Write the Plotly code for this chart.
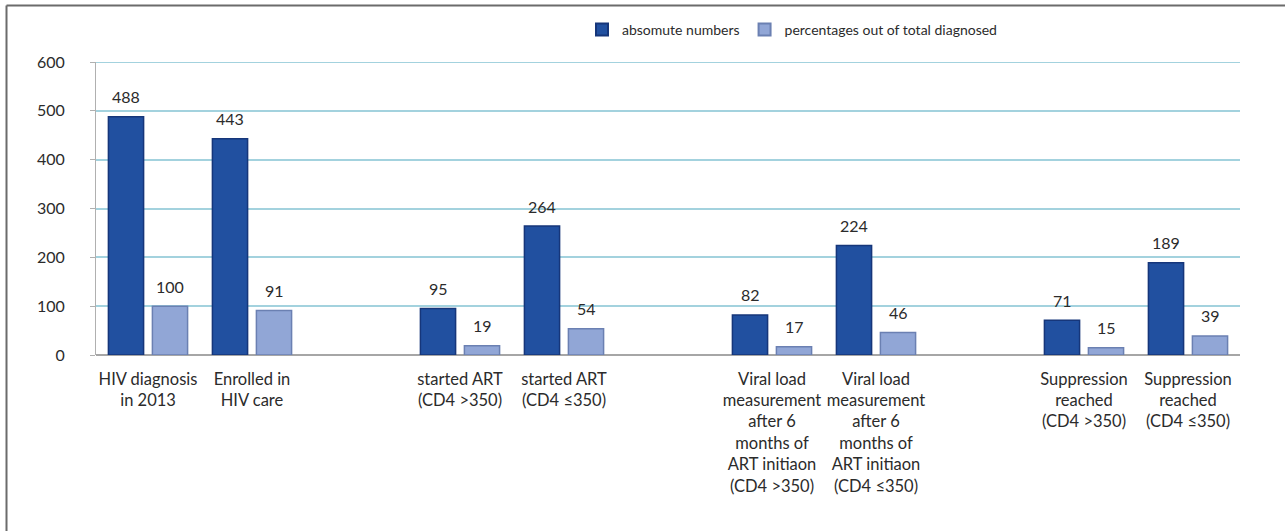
import plotly.graph_objects as go

# Care-cascade stages; empty slots separate the stage groups on the axis
categories = [
    "HIV diagnosis<br>in 2013",
    "Enrolled in<br>HIV care",
    None,
    "started ART<br>(CD4 >350)",
    "started ART<br>(CD4 ≤350)",
    None,
    "Viral load<br>measurement<br>after 6<br>months of<br>ART initiaon<br>(CD4 >350)",
    "Viral load<br>measurement<br>after 6<br>months of<br>ART initiaon<br>(CD4 ≤350)",
    None,
    "Suppression<br>reached<br>(CD4 >350)",
    "Suppression<br>reached<br>(CD4 ≤350)",
]
absolute_numbers = [488, 443, 95, 264, 82, 224, 71, 189]
percentages = [100, 91, 19, 54, 17, 46, 15, 39]
y_ticks = [0, 100, 200, 300, 400, 500, 600]

series_names = ["absomute numbers", "percentages out of total diagnosed"]

# Slot index for each real category (gaps skipped)
positions = [i for i, c in enumerate(categories) if c is not None]
labels = [c for c in categories if c is not None]

W, H = 1285, 531
L, R, T, B = 96, 45, 62, 176
plot_w = W - L - R
plot_h = H - T - B

BARGAP = 0.154
half = (1 - BARGAP) / 4  # offset of each bar centre from its slot centre

font_family = "Lato, 'Open Sans', sans-serif"
text_color = "#2b2b2b"
grid_color = "#a3d2de"

fig = go.Figure()
fig.add_trace(go.Bar(
    x=positions, y=absolute_numbers, name=series_names[0],
    marker=dict(color="#2150a0", line=dict(color="#16367a", width=1.5)),
))
fig.add_trace(go.Bar(
    x=positions, y=percentages, name=series_names[1],
    marker=dict(color="#91a6d6", line=dict(color="#6b80b2", width=1.5)),
))

# Value labels above each bar
annotations = []
for p, v in zip(positions, absolute_numbers):
    annotations.append(dict(x=p - half, y=v, xref="x", yref="y", text=str(v),
                            showarrow=False, yshift=20, yanchor="middle",
                            font=dict(size=16, color=text_color, family=font_family)))
for p, v in zip(positions, percentages):
    annotations.append(dict(x=p + half, y=v, xref="x", yref="y", text=str(v),
                            showarrow=False, yshift=20, yanchor="middle",
                            font=dict(size=16, color=text_color, family=font_family)))


def px_to_paper_x(px):
    return (px - L) / plot_w


def px_to_paper_y(py):
    return (H - B - py) / plot_h


# Frame lines along the top and left edges of the figure, plus the top gridline
shapes = [
    dict(type="line", xref="paper", yref="paper",
         x0=px_to_paper_x(6.5), x1=px_to_paper_x(W + 5),
         y0=px_to_paper_y(5.5), y1=px_to_paper_y(5.5),
         line=dict(color="#6b6b6b", width=2)),
    dict(type="line", xref="paper", yref="paper",
         x0=px_to_paper_x(6.5), x1=px_to_paper_x(6.5),
         y0=px_to_paper_y(5.5), y1=px_to_paper_y(H + 5),
         line=dict(color="#6b6b6b", width=2)),
    dict(type="line", xref="paper", yref="y", x0=0, x1=1,
         y0=y_ticks[-1], y1=y_ticks[-1], layer="below",
         line=dict(color=grid_color, width=2)),
]

fig.update_layout(
    width=W, height=H,
    margin=dict(l=L, r=R, t=T, b=B, pad=0),
    paper_bgcolor="white", plot_bgcolor="white",
    barmode="group", bargap=BARGAP, bargroupgap=0.2,
    font=dict(family=font_family, size=15, color=text_color),
    showlegend=True,
    legend=dict(orientation="h", x=px_to_paper_x(792), y=px_to_paper_y(30),
                xanchor="center", yanchor="middle",
                font=dict(size=14, color=text_color, family=font_family),
                itemsizing="constant", itemwidth=30, bgcolor="rgba(0,0,0,0)"),
    annotations=annotations,
    shapes=shapes,
    xaxis=dict(
        range=[-0.5, len(categories) - 0.5],
        tickmode="array", tickvals=positions, ticktext=labels,
        showgrid=False, zeroline=False, showline=False,
        ticks="", tickangle=0, ticklabelstandoff=12,
        tickfont=dict(size=16.5, color=text_color, family=font_family),
    ),
    yaxis=dict(
        range=[0, 600], tickmode="array", tickvals=y_ticks,
        showgrid=True, gridcolor=grid_color, gridwidth=2,
        zeroline=True, zerolinecolor="#a6a6a6", zerolinewidth=1.5,
        showline=True, linecolor="#b0b0b0", linewidth=1,
        ticks="outside", ticklen=5, tickcolor="#b0b0b0",
        ticklabelstandoff=22,
        tickfont=dict(size=16, color=text_color, family=font_family),
    ),
)

fig.write_html("out.html")
